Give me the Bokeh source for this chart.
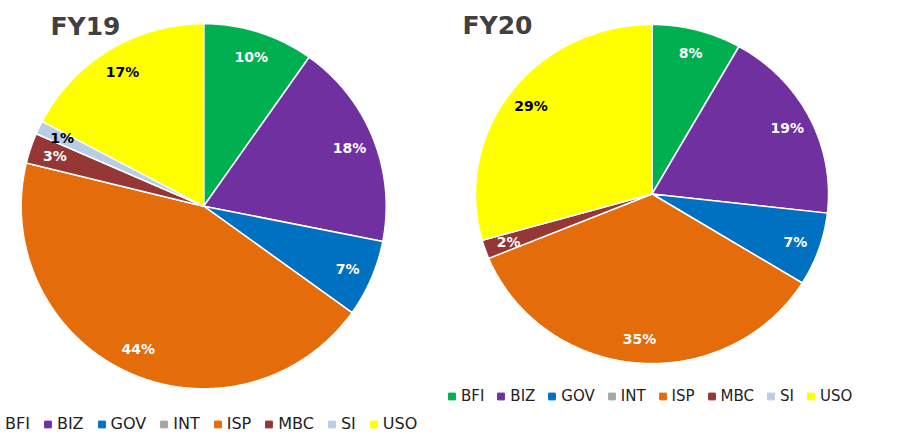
import numpy as np
from bokeh.plotting import figure
from bokeh.models import Range1d, Label, Legend, LegendItem
from bokeh.core.properties import value
from bokeh.embed import file_html
from bokeh.resources import INLINE

# ---------------- data ----------------
categories = ["BFI", "BIZ", "GOV", "INT", "ISP", "MBC", "SI", "USO"]
fy19_values = [9.8, 18.3, 6.8, 0.0, 43.9, 2.7, 1.2, 17.3]
fy20_values = [8.2, 18.6, 7.0, 0.0, 35.0, 1.8, 0.0, 29.4]
chart_titles = ["FY19", "FY20"]

# ---------------- styles ----------------
colors = ["#00B050", "#7030A0", "#0070C0", "#A5A5A5", "#E46C0A", "#953735", "#B9CDE5", "#FFFF00"]
label_colors = ["#FFFFFF", "#FFFFFF", "#FFFFFF", "#000000", "#FFFFFF", "#FFFFFF", "#000000", "#000000"]
FONT_NAME = "DejaVu Sans"

W, H = 904, 434

p = figure(width=W, height=H, x_range=Range1d(0, W), y_range=Range1d(H, 0),
           x_axis_type=None, y_axis_type=None, output_backend="svg", toolbar_location=None,
           min_border=0)
p.grid.visible = False
p.outline_line_color = None
p.background_fill_color = "white"
p.border_fill_color = "white"


def draw_pie(vals, cx, cy, rx, ry, title, tx, ty):
    vals = np.asarray(vals, dtype=float)
    frac = vals / vals.sum()
    ends = np.cumsum(frac) * 2 * np.pi
    starts = ends - frac * 2 * np.pi
    xs, ys, fills = [], [], []
    lx, ly, ltxt, lcol = [], [], [], []
    for i, v in enumerate(vals):
        if v <= 0:
            continue
        n = max(3, int(np.degrees(ends[i] - starts[i]) * 2) + 2)
        t = np.linspace(starts[i], ends[i], n)
        xs.append(np.concatenate([[cx], cx + rx * np.sin(t)]).tolist())
        ys.append(np.concatenate([[cy], cy - ry * np.cos(t)]).tolist())
        fills.append(colors[i])
        mid = 0.5 * (starts[i] + ends[i])
        lx.append(cx + 0.86 * rx * np.sin(mid))
        ly.append(cy - 0.86 * ry * np.cos(mid))
        ltxt.append(f"{int(round(frac[i] * 100))}%")
        lcol.append(label_colors[i])
    p.patches(xs, ys, fill_color=fills, line_color="white", line_width=1.5)
    p.text(lx, ly, text=ltxt, text_color=lcol, text_font=value(FONT_NAME), text_font_style="bold",
           text_font_size="14px", text_align="center", text_baseline="middle")
    p.add_layout(Label(x=tx, y=ty, text=title, text_font=FONT_NAME, text_font_style="bold",
                       text_font_size="25px", text_color="#404040",
                       text_align="left", text_baseline="alphabetic"))


draw_pie(fy19_values, 203.2, 205.7, 182.5, 182.5, chart_titles[0], 50, 26)
draw_pie(fy20_values, 651.5, 193.5, 176.5, 169.5, chart_titles[1], 462, 25)

# legend proxies (one NaN point each, so nothing shows in the plot area)
proxies = []
for c, col in zip(categories, colors):
    proxies.append(p.scatter(x=[float("nan")], y=[float("nan")], marker="square", size=7,
                             fill_color=col, line_color=col))


def add_legend(x, y, fs, spacing):
    items = [LegendItem(label=c, renderers=[r]) for c, r in zip(categories, proxies)]
    lg = Legend(items=items, orientation="horizontal", location=(x, y), padding=0, margin=0,
                spacing=spacing, label_standoff=1, glyph_width=17, glyph_height=18,
                label_height=18, label_width=0, label_text_font=FONT_NAME,
                label_text_font_size=fs, label_text_color="#222222",
                border_line_color=None, background_fill_alpha=0)
    p.add_layout(lg, "center")


add_legend(-13, 1, "16px", 9)
add_legend(443, 29, "15px", 8)

open("out.html", "w").write(file_html(p, INLINE))
